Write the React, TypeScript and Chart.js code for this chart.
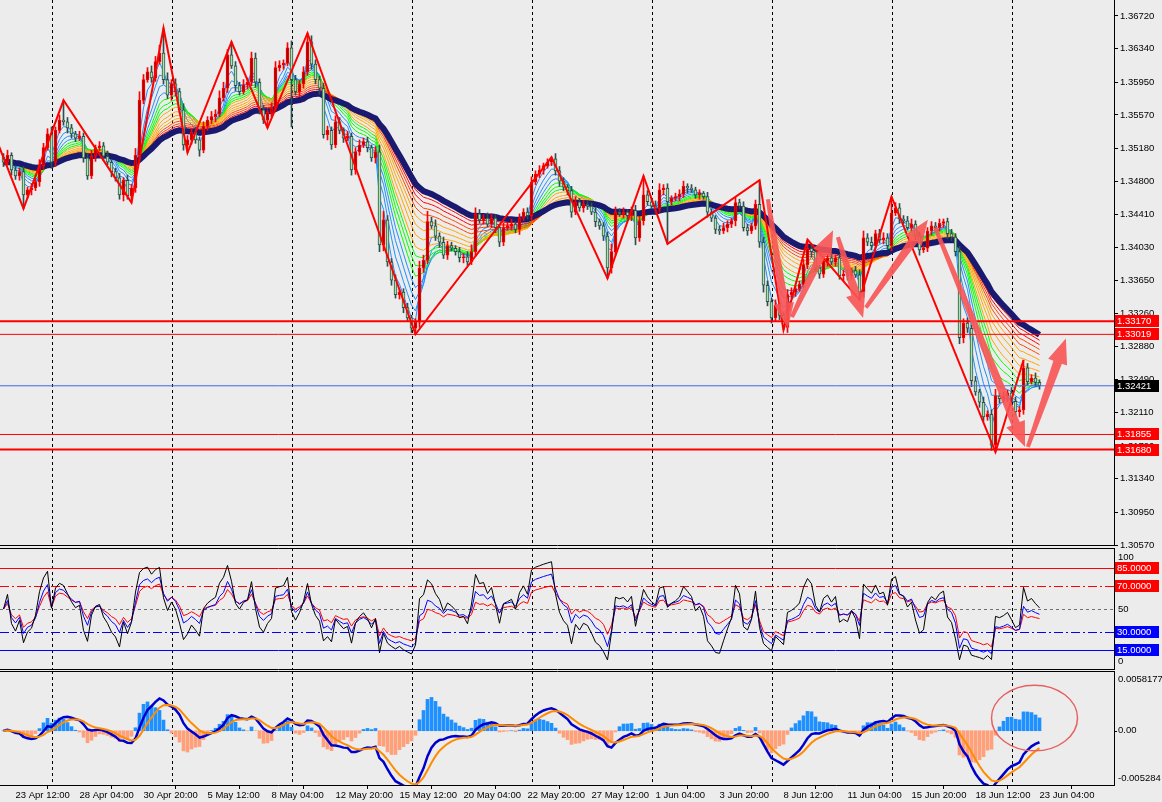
import React, { useEffect, useRef } from 'react';
import { Chart, registerables } from 'chart.js';

Chart.register(...registerables);

// ---------------- DATA ----------------
const closes = [
  1.3502, 1.3510, 1.3493, 1.3486, 1.3491, 1.3464, 1.3470, 1.3472, 1.3479, 1.3498,
  1.3519, 1.3535, 1.3502, 1.3539, 1.3551, 1.3549, 1.3542, 1.3535, 1.3530, 1.3532,
  1.3507, 1.3486, 1.3509, 1.3519, 1.3521, 1.3509, 1.3502, 1.3491, 1.3484, 1.3464,
  1.3481, 1.3463, 1.3472, 1.3510, 1.3574, 1.3598, 1.3607, 1.3600, 1.3619, 1.3629,
  1.3598, 1.3580, 1.3593, 1.3584, 1.3563, 1.3522, 1.3528, 1.3537, 1.3528, 1.3516,
  1.3544, 1.3551, 1.3555, 1.3558, 1.3577, 1.3588, 1.3627, 1.3614, 1.3591, 1.3584,
  1.3592, 1.3595, 1.3623, 1.3595, 1.3563, 1.3551, 1.3560, 1.3565, 1.3612, 1.3615,
  1.3617, 1.3635, 1.3598, 1.3584, 1.3593, 1.3607, 1.3642, 1.3616, 1.3598, 1.3588,
  1.3534, 1.3539, 1.3522, 1.3549, 1.3539, 1.3530, 1.3532, 1.3493, 1.3514, 1.3522,
  1.3526, 1.3519, 1.3507, 1.3514, 1.3406, 1.3435, 1.3386, 1.3365, 1.3348, 1.3351,
  1.3333, 1.3321, 1.3309, 1.3316, 1.3379, 1.3388, 1.3433, 1.3428, 1.3416, 1.3409,
  1.3394, 1.3405, 1.3402, 1.3398, 1.3391, 1.3392, 1.3386, 1.3398, 1.3442, 1.3435,
  1.3437, 1.3430, 1.3437, 1.3426, 1.3409, 1.3426, 1.3428, 1.3430, 1.3424, 1.3437,
  1.3444, 1.3440, 1.3479, 1.3488, 1.3493, 1.3498, 1.3502, 1.3506, 1.3492, 1.3480,
  1.3473, 1.3469, 1.3444, 1.3456, 1.3449, 1.3453, 1.3451, 1.3444, 1.3433, 1.3428,
  1.3416, 1.3379, 1.3398, 1.3444, 1.3442, 1.3444, 1.3440, 1.3446, 1.3414, 1.3434,
  1.3464, 1.3456, 1.3451, 1.3448, 1.3470, 1.3472, 1.3456, 1.3460, 1.3462, 1.3465,
  1.3474, 1.3472, 1.3470, 1.3464, 1.3466, 1.3462, 1.3444, 1.3437, 1.3424, 1.3422,
  1.3426, 1.3430, 1.3434, 1.3455, 1.3451, 1.3426, 1.3422, 1.3428, 1.3453, 1.3409,
  1.3359, 1.3340, 1.3321, 1.3336, 1.3324, 1.3310, 1.3348, 1.3351, 1.3355, 1.3360,
  1.3383, 1.3402, 1.3398, 1.3379, 1.3372, 1.3387, 1.3391, 1.3386, 1.3391, 1.3370,
  1.3372, 1.3370, 1.3376, 1.3371, 1.3351, 1.3414, 1.3409, 1.3405, 1.3419, 1.3412,
  1.3414, 1.3405, 1.3443, 1.3449, 1.3436, 1.3434, 1.3426, 1.3430, 1.3416, 1.3400,
  1.3402, 1.3422, 1.3428, 1.3426, 1.3431, 1.3433, 1.3419, 1.3415, 1.3398, 1.3298,
  1.3315, 1.3309, 1.3248, 1.3235, 1.3223, 1.3206, 1.3209, 1.3173, 1.3230, 1.3227,
  1.3230, 1.3234, 1.3224, 1.3212, 1.3214, 1.3263, 1.3247, 1.3251, 1.3246, 1.32421,
];
const firstOpen = 1.3508;

// candle shadows, in pips above the body top / below the body bottom
const upWickPips = [
  4, 6, 3, 5, 4, 6, 3, 5, 4, 7, 5, 6, 8, 4, 6, 23, 5, 4, 3, 6,
  4, 5, 7, 3, 5, 4, 6, 3, 4, 5, 3, 6, 4, 8, 10, 6, 5, 7, 6, 9,
  29, 8, 5, 6, 4, 7, 5, 4, 6, 3, 5, 4, 6, 5, 8, 7, 6, 15, 5, 4,
  6, 5, 7, 6, 4, 5, 3, 6, 7, 5, 4, 6, 8, 5, 4, 6, 10, 7, 5, 4,
  6, 5, 4, 7, 5, 3, 6, 4, 5, 6, 4, 5, 3, 6, 8, 10, 5, 4, 6, 3,
  4, 5, 3, 4, 8, 6, 12, 5, 7, 4, 6, 5, 4, 3, 5, 4, 6, 8, 7, 5,
  4, 6, 5, 4, 3, 5, 4, 6, 3, 5, 4, 5, 6, 4, 5, 3, 4, 2, 6, 5,
  4, 3, 5, 6, 4, 5, 3, 4, 5, 3, 4, 5, 9, 6, 4, 5, 3, 4, 6, 5,
  22, 5, 4, 6, 7, 4, 5, 3, 4, 5, 6, 3, 4, 3, 4, 2, 5, 4, 3, 4,
  5, 4, 3, 6, 4, 5, 4, 3, 5, 28, 6, 5, 4, 6, 3, 4, 6, 5, 3, 4,
  6, 10, 5, 4, 3, 6, 4, 5, 3, 4, 5, 4, 3, 5, 6, 8, 5, 6, 4, 5,
  6, 5, 19, 6, 5, 4, 5, 6, 4, 5, 3, 4, 5, 4, 5, 3, 4, 5, 4, 6,
  5, 6, 4, 5, 3, 6, 4, 5, 8, 4, 5, 3, 6, 5, 4, 9, 5, 4, 6, 3,
];
const lowWickPips = [
  5, 3, 6, 4, 5, 16, 4, 6, 3, 5, 4, 3, 7, 5, 3, 4, 6, 5, 4, 3,
  5, 4, 3, 6, 4, 5, 3, 6, 4, 5, 7, 4, 8, 5, 6, 4, 3, 5, 4, 3,
  5, 4, 6, 5, 4, 6, 9, 5, 4, 7, 3, 5, 4, 6, 3, 4, 5, 3, 6, 4,
  3, 5, 4, 6, 5, 4, 9, 5, 3, 4, 5, 3, 55, 4, 6, 5, 4, 6, 5, 7,
  4, 6, 5, 3, 4, 5, 3, 6, 5, 4, 3, 5, 4, 6, 8, 7, 5, 6, 4, 5,
  6, 4, 5, 7, 6, 5, 4, 3, 5, 6, 4, 5, 3, 4, 5, 6, 4, 3, 5, 4,
  5, 3, 4, 6, 5, 4, 3, 5, 4, 6, 3, 4, 5, 3, 4, 5, 3, 4, 5, 6,
  4, 5, 6, 3, 4, 5, 4, 3, 6, 4, 5, 12, 6, 4, 3, 5, 4, 6, 8, 4,
  5, 4, 3, 5, 4, 6, 49, 4, 3, 5, 4, 6, 3, 4, 5, 3, 6, 4, 5, 4,
  3, 5, 4, 6, 3, 4, 5, 3, 4, 6, 8, 5, 6, 4, 5, 3, 6, 4, 5, 3,
  4, 5, 6, 3, 5, 4, 6, 3, 5, 4, 6, 5, 4, 3, 9, 6, 4, 5, 3, 4,
  5, 4, 6, 3, 5, 4, 3, 5, 4, 6, 3, 4, 5, 3, 4, 5, 6, 4, 5, 7,
  6, 5, 7, 4, 6, 5, 4, 6, 8, 5, 4, 6, 5, 4, 6, 5, 4, 3, 5, 4,
];

const zigzagBars = [-3, 5, 15, 32, 40, 46, 57, 66, 76, 103, 137, 151, 160, 166, 189, 195, 201, 214, 222, 248, 255];
const zigzagPrices = [1.3543, 1.3448, 1.3574, 1.3455, 1.3658, 1.3513, 1.3642, 1.3542, 1.3652, 1.3302, 1.3508,
  1.3367, 1.3486, 1.3407, 1.3481, 1.3307, 1.3412, 1.3342, 1.3462, 1.3165, 1.3272];

const priceTicks = [1.3057, 1.3095, 1.3134, 1.3172, 1.3211, 1.3249, 1.3288, 1.3326, 1.3365,
  1.3403, 1.3441, 1.348, 1.3518, 1.3557, 1.3595, 1.3634, 1.3672];

const dateLabels = ['23 Apr 12:00', '28 Apr 04:00', '30 Apr 20:00', '5 May 12:00', '8 May 04:00', '12 May 20:00',
  '15 May 12:00', '20 May 04:00', '22 May 20:00', '27 May 12:00', '1 Jun 04:00', '3 Jun 20:00', '8 Jun 12:00',
  '11 Jun 04:00', '15 Jun 20:00', '18 Jun 12:00', '23 Jun 04:00'];
const dateLabelBars = [3, 19, 35, 51, 67, 83, 99, 115, 131, 147, 163, 179, 195, 211, 227, 243, 259];
const weekGridBars = [12, 42, 72, 102, 132, 162, 192, 222, 252];

const redLevels = [1.3317, 1.33019, 1.31855, 1.3168];
const currentPrice = 1.32421;

const arrowFromBar = [191.1, 197.1, 208.6, 215.6, 232.9, 256.1];
const arrowFromPrice = [1.3459, 1.3322, 1.3415, 1.3333, 1.3426, 1.3171];
const arrowToBar = [196.1, 207.4, 214.9, 231.1, 255.4, 265.6];
const arrowToPrice = [1.3309, 1.3423, 1.3321, 1.3435, 1.3171, 1.3297];

const oscLevels = [85, 70, 50, 30, 15];
const macdMax = 0.0058177;
const macdMin = -0.005284;
const ellipseCenter = [257.75, 0.00124];
const ellipseRadius = [10.75, 0.0032];

// indicator settings
const ribbonPeriods = [3, 5, 7, 9, 11, 13, 15, 17, 20, 23, 26, 29, 32, 35, 38];
const ribbonColors = ['#1E90FF', '#1E90FF', '#1E90FF', '#1E90FF', '#00FF00', '#00FF00', '#00FF00',
  '#FFA500', '#FFA500', '#FFA500', '#FFA500', '#FF4500', '#FF4500', '#FF0000', '#FF0000'];
const slowPeriod = 42;
const rsiPeriods = [5, 9, 14];
const macdFast = 8, macdSlow = 17, macdSignal = 5, histGain = 2.2;

// ---------------- LAYOUT ----------------
const W = 1162, H = 802;
const AXIS_X = 1114;
const MAIN_BOTTOM = 545;
const OSC_TOP = 548, OSC_BOTTOM = 670;
const MACD_TOP = 671, MACD_BOTTOM = 785;
const X_MIN = -0.875, X_MAX = 277.625;
const PRICE_MIN = 1.3057, PRICE_MAX = 1.36906;
const OSC_MIN = -2.05, OSC_MAX = 102.05;
const FONT_FAMILY = "'Liberation Sans', Arial, sans-serif";
const FONT_SIZE = 9.5;

// ---------------- DERIVED ----------------
const PIP = 0.0001;
const opens = closes.map((c, i) => (i === 0 ? firstOpen : closes[i - 1]));
const highs = closes.map((c, i) => Math.max(opens[i], c) + upWickPips[i] * PIP);
const lows = closes.map((c, i) => Math.min(opens[i], c) - lowWickPips[i] * PIP);
const isBull = closes.map((c, i) => c >= opens[i]);

function ema(src: number[], n: number): number[] {
  const a = 2 / (n + 1);
  const out: number[] = [];
  let v = src[0];
  for (let i = 0; i < src.length; i++) {
    v = i === 0 ? src[0] : v + a * (src[i] - v);
    out.push(v);
  }
  return out;
}
function rsi(src: number[], n: number): number[] {
  let ag = 0.0003, al = 0.0003;
  const out = [50];
  for (let i = 1; i < src.length; i++) {
    const d = src[i] - src[i - 1];
    ag = (ag * (n - 1) + Math.max(d, 0)) / n;
    al = (al * (n - 1) + Math.max(-d, 0)) / n;
    out.push(100 - 100 / (1 + ag / al));
  }
  return out;
}
const pts = (arr: number[]) => arr.map((v, i) => ({ x: i, y: v }));

const fastE = ema(closes, macdFast);
const slowE = ema(closes, macdSlow);
const macdLine = fastE.map((v, i) => v - slowE[i]);
const signalLine = ema(macdLine, macdSignal);
const histo = macdLine.map((v, i) => (v - signalLine[i]) * histGain);

// ---------------- HELPERS ----------------
function weekGrid(chart: any) {
  const { ctx, chartArea, scales } = chart;
  ctx.save();
  ctx.strokeStyle = '#000';
  ctx.lineWidth = 1;
  ctx.setLineDash([3, 3]);
  weekGridBars.forEach((b) => {
    const x = Math.round(scales.x.getPixelForValue(b)) + 0.5;
    ctx.beginPath();
    ctx.moveTo(x, chartArea.top);
    ctx.lineTo(x, chartArea.bottom);
    ctx.stroke();
  });
  ctx.restore();
}
function hLine(ctx: any, y: number, x1: number, x2: number) {
  ctx.beginPath();
  ctx.moveTo(x1, y);
  ctx.lineTo(x2, y);
  ctx.stroke();
}
function vLine(ctx: any, x: number, y1: number, y2: number) {
  ctx.beginPath();
  ctx.moveTo(x, y1);
  ctx.lineTo(x, y2);
  ctx.stroke();
}
function labelBox(ctx: any, y: number, text: string, bg: string) {
  ctx.save();
  ctx.fillStyle = bg;
  ctx.fillRect(AXIS_X + 1, Math.round(y) - 6, 44, 12);
  ctx.fillStyle = '#fff';
  ctx.font = `${FONT_SIZE}px ${FONT_FAMILY}`;
  ctx.textBaseline = 'middle';
  ctx.textAlign = 'left';
  ctx.fillText(text, AXIS_X + 3, Math.round(y) + 0.5);
  ctx.restore();
}
function axisText(ctx: any, y: number, text: string) {
  ctx.save();
  ctx.fillStyle = '#000';
  ctx.font = `${FONT_SIZE}px ${FONT_FAMILY}`;
  ctx.textBaseline = 'middle';
  ctx.textAlign = 'left';
  ctx.fillText(text, AXIS_X + 4, y);
  ctx.restore();
}
function drawArrow(ctx: any, x1: number, y1: number, x2: number, y2: number) {
  const ang = Math.atan2(y2 - y1, x2 - x1);
  const len = Math.hypot(x2 - x1, y2 - y1);
  const headL = 25, headW = 10, shaftHead = 4.5, shaftTail = 2;
  ctx.save();
  ctx.translate(x1, y1);
  ctx.rotate(ang);
  ctx.beginPath();
  ctx.moveTo(0, -shaftTail);
  ctx.lineTo(len - headL, -shaftHead);
  ctx.lineTo(len - headL, -headW);
  ctx.lineTo(len, 0);
  ctx.lineTo(len - headL, headW);
  ctx.lineTo(len - headL, shaftHead);
  ctx.lineTo(0, shaftTail);
  ctx.closePath();
  ctx.fillStyle = 'rgba(248,84,84,0.9)';
  ctx.fill();
  ctx.restore();
}

const xScaleHidden = { type: 'linear', min: X_MIN, max: X_MAX, display: false, offset: false };
const baseOptions = {
  animation: false,
  responsive: false,
  devicePixelRatio: 1,
  events: [],
  plugins: { legend: { display: false }, tooltip: { enabled: false } },
};

// ---------------- MAIN PRICE CHART ----------------
function mainConfig(): any {
  const datasets: any[] = [];
  redLevels.forEach((v, k) => {
    datasets.push({
      type: 'line', data: [{ x: X_MIN, y: v }, { x: X_MAX, y: v }],
      borderColor: '#FF0000', borderWidth: k === 0 || k === 3 ? 2 : 1, pointRadius: 0, order: 1,
    });
  });
  datasets.push({
    type: 'line', data: [{ x: X_MIN, y: currentPrice }, { x: X_MAX, y: currentPrice }],
    borderColor: '#4169E1', borderWidth: 1, pointRadius: 0, order: 1,
  });
  datasets.push({
    type: 'line', data: zigzagBars.map((b, k) => ({ x: b, y: zigzagPrices[k] })),
    borderColor: '#FF0000', borderWidth: 2, pointRadius: 0, tension: 0, order: 2,
  });
  datasets.push({
    type: 'bar', data: closes.map((c, i) => ({ x: i, y: [Math.min(opens[i], c), Math.max(opens[i], c)] })),
    backgroundColor: isBull.map((b) => (b ? '#B00000' : '#A6E6A6')),
    borderColor: isBull.map((b) => (b ? '#FF0000' : '#2F4F4F')),
    borderWidth: 1, borderSkipped: false, barThickness: 3, minBarLength: 1, grouped: false, order: 3,
  });
  datasets.push({
    type: 'bar', data: closes.map((c, i) => ({ x: i, y: [lows[i], highs[i]] })),
    backgroundColor: isBull.map((b) => (b ? '#FF0000' : '#2F4F4F')),
    borderWidth: 0, barThickness: 1, grouped: false, order: 4,
  });
  datasets.push({
    type: 'line', data: pts(ema(closes, slowPeriod)), borderColor: '#191970', borderWidth: 6,
    pointRadius: 0, order: 5,
  });
  ribbonPeriods.forEach((p, k) => {
    datasets.push({
      type: 'line', data: pts(ema(closes, p)), borderColor: ribbonColors[k], borderWidth: 1,
      pointRadius: 0, order: 6 + (ribbonPeriods.length - k),
    });
  });

  const plugin = {
    id: 'mainDeco',
    beforeDatasetsDraw(chart: any) { weekGrid(chart); },
    afterDatasetsDraw(chart: any) {
      const { ctx, chartArea, scales } = chart;
      ctx.save();
      ctx.beginPath();
      ctx.rect(chartArea.left, chartArea.top, chartArea.right - chartArea.left, chartArea.bottom - chartArea.top);
      ctx.clip();
      arrowFromBar.forEach((b, k) => {
        drawArrow(ctx, scales.x.getPixelForValue(b), scales.y.getPixelForValue(arrowFromPrice[k]),
          scales.x.getPixelForValue(arrowToBar[k]), scales.y.getPixelForValue(arrowToPrice[k]));
      });
      ctx.restore();
      ctx.save();
      ctx.strokeStyle = '#000';
      ctx.lineWidth = 1;
      hLine(ctx, chartArea.bottom + 0.5, 0, AXIS_X + 1);
      ctx.restore();
    },
    afterDraw(chart: any) {
      const { ctx, scales } = chart;
      redLevels.forEach((v) => labelBox(ctx, scales.y.getPixelForValue(v), v.toFixed(5), '#FF0000'));
      labelBox(ctx, scales.y.getPixelForValue(currentPrice), currentPrice.toFixed(5), '#000000');
    },
  };

  return {
    type: 'bar',
    data: { datasets },
    options: {
      ...baseOptions,
      layout: { padding: { left: 0, top: 0, right: 0, bottom: H - MAIN_BOTTOM } },
      scales: {
        x: xScaleHidden,
        y: {
          type: 'linear', position: 'right', min: PRICE_MIN, max: PRICE_MAX,
          afterFit(s: any) { s.width = W - AXIS_X; s.paddingTop = 0; s.paddingBottom = 0; },
          afterBuildTicks(s: any) { s.ticks = priceTicks.map((v) => ({ value: v })); },
          ticks: {
            autoSkip: false, color: '#000', padding: 2,
            font: { family: FONT_FAMILY, size: FONT_SIZE },
            callback: (v: any) => Number(v).toFixed(5),
          },
          grid: { drawOnChartArea: false, color: '#000', tickLength: 4 },
          border: { display: true, color: '#000' },
        },
      },
    },
    plugins: [plugin],
  };
}

// ---------------- OSCILLATOR ----------------
function oscConfig(): any {
  const lineColors = ['#000000', '#0000FF', '#FF0000'];
  const datasets: any[] = rsiPeriods.map((p, k) => ({
    type: 'line', data: pts(rsi(closes, p)), borderColor: lineColors[k], borderWidth: 1,
    pointRadius: 0, order: 1 + k,
  }));
  const levelColor = ['#FF0000', '#FF0000', '#707070', '#0000FF', '#0000FF'];
  const levelDash = [[], [9, 3, 2, 3], [3, 3], [9, 3, 2, 3], []];
  const plugin = {
    id: 'oscDeco',
    beforeDatasetsDraw(chart: any) {
      weekGrid(chart);
      const { ctx, scales } = chart;
      ctx.save();
      ctx.lineWidth = 1;
      oscLevels.forEach((v, k) => {
        ctx.strokeStyle = levelColor[k];
        ctx.setLineDash(levelDash[k]);
        hLine(ctx, Math.round(scales.y.getPixelForValue(v)) + 0.5, scales.x.left, scales.x.right);
      });
      ctx.restore();
    },
    afterDraw(chart: any) {
      const { ctx, chartArea, scales } = chart;
      ctx.save();
      ctx.strokeStyle = '#000';
      ctx.lineWidth = 1;
      hLine(ctx, chartArea.top + 0.5, 0, AXIS_X + 1);
      hLine(ctx, chartArea.bottom - 0.5, 0, AXIS_X + 1);
      vLine(ctx, AXIS_X + 0.5, chartArea.top, chartArea.bottom);
      ctx.restore();
      axisText(ctx, scales.y.getPixelForValue(100) + 7, '100');
      axisText(ctx, scales.y.getPixelForValue(50), '50');
      axisText(ctx, scales.y.getPixelForValue(0) - 6, '0');
      const boxColors = ['#FF0000', '#FF0000', '', '#0000FF', '#0000FF'];
      oscLevels.forEach((v, k) => {
        if (boxColors[k]) labelBox(ctx, scales.y.getPixelForValue(v), v.toFixed(4), boxColors[k]);
      });
    },
  };
  return {
    type: 'line',
    data: { datasets },
    options: {
      ...baseOptions,
      layout: { padding: { left: 0, top: OSC_TOP, right: W - AXIS_X, bottom: H - OSC_BOTTOM } },
      scales: {
        x: xScaleHidden,
        y: { type: 'linear', min: OSC_MIN, max: OSC_MAX, display: false },
      },
    },
    plugins: [plugin],
  };
}

// ---------------- MACD ----------------
function macdConfig(): any {
  const datasets: any[] = [
    {
      type: 'line', data: pts(signalLine), borderColor: '#FF8C00', borderWidth: 2, pointRadius: 0, order: 1,
    },
    {
      type: 'line', data: pts(macdLine), borderColor: '#0000CD', borderWidth: 2.5, pointRadius: 0, order: 2,
    },
    {
      type: 'bar', data: pts(histo), backgroundColor: histo.map((v) => (v >= 0 ? '#1E90FF' : '#FFA07A')),
      barThickness: 3, grouped: false, order: 3,
    },
  ];
  const plugin = {
    id: 'macdDeco',
    beforeDatasetsDraw(chart: any) { weekGrid(chart); },
    afterDatasetsDraw(chart: any) {
      const { ctx, scales } = chart;
      const cx = scales.x.getPixelForValue(ellipseCenter[0]);
      const cy = scales.y.getPixelForValue(ellipseCenter[1]);
      const rx = scales.x.getPixelForValue(ellipseCenter[0] + ellipseRadius[0]) - cx;
      const ry = cy - scales.y.getPixelForValue(ellipseCenter[1] + ellipseRadius[1]);
      ctx.save();
      ctx.strokeStyle = '#E86060';
      ctx.lineWidth = 1.5;
      ctx.beginPath();
      ctx.ellipse(cx, cy, rx, ry, 0, 0, Math.PI * 2);
      ctx.stroke();
      ctx.restore();
    },
    afterDraw(chart: any) {
      const { ctx, chartArea, scales } = chart;
      ctx.save();
      ctx.strokeStyle = '#000';
      ctx.lineWidth = 1;
      hLine(ctx, chartArea.top + 0.5, 0, AXIS_X + 1);
      vLine(ctx, AXIS_X + 0.5, chartArea.top, chartArea.bottom);
      const y0 = Math.round(scales.y.getPixelForValue(0)) + 0.5;
      hLine(ctx, y0, AXIS_X, AXIS_X + 3);
      ctx.restore();
      axisText(ctx, chartArea.top + 8, macdMax.toFixed(7));
      axisText(ctx, scales.y.getPixelForValue(0), '0.00');
      axisText(ctx, chartArea.bottom - 7, macdMin.toFixed(6));
    },
  };
  return {
    type: 'bar',
    data: { datasets },
    options: {
      ...baseOptions,
      layout: { padding: { left: 0, top: MACD_TOP, right: W - AXIS_X, bottom: 0 } },
      scales: {
        x: {
          type: 'linear', min: X_MIN, max: X_MAX, offset: false, position: 'bottom',
          afterFit(s: any) { s.height = H - MACD_BOTTOM; s.paddingLeft = 0; s.paddingRight = 0; },
          afterBuildTicks(s: any) { s.ticks = dateLabelBars.map((v) => ({ value: v })); },
          ticks: {
            autoSkip: false, maxRotation: 0, minRotation: 0, align: 'start', padding: 1, color: '#000',
            font: { family: FONT_FAMILY, size: FONT_SIZE },
            callback: (_v: any, idx: number) => dateLabels[idx],
          },
          grid: { drawOnChartArea: false, color: '#000', tickLength: 4 },
          border: { display: true, color: '#000' },
        },
        y: { type: 'linear', min: macdMin, max: macdMax, display: false },
      },
    },
    plugins: [plugin],
  };
}

export default function App() {
  const mainRef = useRef<HTMLCanvasElement>(null);
  const oscRef = useRef<HTMLCanvasElement>(null);
  const macdRef = useRef<HTMLCanvasElement>(null);

  useEffect(() => {
    const charts: Chart[] = [];
    if (mainRef.current) charts.push(new Chart(mainRef.current, mainConfig()));
    if (oscRef.current) charts.push(new Chart(oscRef.current, oscConfig()));
    if (macdRef.current) charts.push(new Chart(macdRef.current, macdConfig()));
    return () => charts.forEach((c) => c.destroy());
  }, []);

  const cs: any = { position: 'absolute', left: 0, top: 0, width: W, height: H };
  return (
    <div style={{ position: 'fixed', left: 0, top: 0, width: W, height: H, background: '#ECECEC', overflow: 'hidden' }}>
      <canvas ref={mainRef} width={W} height={H} style={cs} />
      <canvas ref={oscRef} width={W} height={H} style={cs} />
      <canvas ref={macdRef} width={W} height={H} style={cs} />
    </div>
  );
}
